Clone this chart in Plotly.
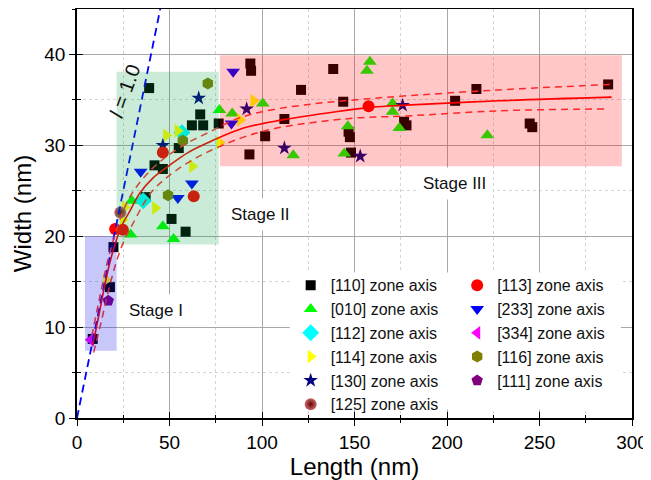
import plotly.graph_objects as go

# ---------------- data ----------------
x110 = [39.0, 66.6, 62.1, 68.2, 76.6, 55.0, 93.7, 94.1, 93.2, 41.9, 46.4, 37.1, 51.1, 58.7,
        19.7, 17.8, 8.5, 138.5, 121.1, 143.9, 112.1, 101.7, 146.8, 147.5, 148.1, 176.8,
        178.1, 215.9, 204.4, 244.7, 246.1, 287.1]
y110 = [36.3, 33.4, 32.2, 32.2, 32.4, 29.7, 39.0, 38.2, 29.0, 27.8, 27.4, 24.3, 21.9, 20.5,
        18.8, 14.4, 8.7, 38.4, 36.1, 34.8, 32.9, 31.0, 31.5, 30.9, 29.2, 32.6,
        32.2, 36.2, 34.9, 32.4, 32.0, 36.7]

x010 = [77.0, 83.9, 100.4, 158.3, 156.7, 116.9, 146.4, 144.5, 170.6, 170.6, 174.2, 221.8,
        29.6, 29.0, 46.4, 52.2]
y010 = [33.9, 33.5, 34.6, 39.2, 38.2, 28.9, 32.1, 29.1, 34.6, 33.7, 31.9, 31.1,
        23.9, 20.2, 21.1, 19.7]

x112 = [56.7, 35.8]
y112 = [31.4, 23.9]

x114 = [48.2, 54.4, 77.0, 95.4, 88.2, 62.3, 42.3, 25.8, 24.8, 15.7]
y114 = [31.1, 31.6, 30.3, 34.9, 32.8, 27.7, 23.1, 23.2, 21.8, 15.2]

x130 = [65.8, 46.4, 91.7, 112.1, 153.1, 176.0]
y130 = [35.2, 30.0, 34.0, 29.7, 28.8, 34.4]

x125 = [23.4]
y125 = [22.6]

x113 = [46.4, 63.1, 20.6, 24.8, 157.6]
y113 = [29.2, 24.4, 20.8, 20.7, 34.3]

x233 = [84.4, 83.5, 34.4, 62.1, 54.5]
y233 = [38.1, 32.4, 27.1, 25.8, 24.2]

x334 = [7.4]
y334 = [8.6]

x116 = [70.7, 57.2, 49.2]
y116 = [36.8, 30.5, 24.5]

x111 = [16.9]
y111 = [12.9]

# fitted curve and its confidence band
fit_x = [8.5, 12, 15, 18, 22, 25, 28.4, 33.8, 41, 50, 60, 72, 90, 111, 140, 160, 175, 228, 289]
fit_y = [8.0, 11.5, 14.6, 17.3, 20.0, 21.5, 22.7, 24.7, 26.4, 27.8, 29.2, 30.4, 31.9, 32.8,
         33.7, 34.2, 34.4, 34.9, 35.3]
up_x = [8, 12, 16, 20, 25, 30, 40, 50, 60, 72, 85, 100, 125, 150, 175, 228, 289]
up_y = [9.0, 13.0, 16.8, 19.8, 22.8, 24.8, 27.3, 29.0, 30.3, 31.5, 32.8, 33.7, 34.5, 35.0,
        35.4, 36.1, 36.7]
lo_x = [9, 13, 17, 21, 25, 30, 40, 50, 60, 72, 90, 108, 150, 175, 228, 286]
lo_y = [7.2, 10.5, 14.0, 17.0, 19.3, 21.3, 24.8, 26.7, 28.1, 29.4, 30.9, 31.9, 33.0, 33.2,
        33.8, 34.0]

# aspect-ratio guide l = 1.0
guide_x = [0, 45]
guide_y = [0, 45]

FONT = "Arial, Liberation Sans, sans-serif"

fig = go.Figure()

def add(name, xs, ys, symbol, color, size, legend, extra=None):
    marker = dict(symbol=symbol, color=color, size=size, line=dict(width=0))
    if extra:
        marker.update(extra)
    fig.add_trace(go.Scatter(x=xs, y=ys, mode="markers", name=name, marker=marker,
                             legend=legend))

add("[110] zone axis", x110, y110, "square", "#000000", 10, "legend")
add("[010] zone axis", x010, y010, "triangle-up", "#00ff00", 12, "legend")
add("[112] zone axis", x112, y112, "diamond", "#00ffff", 13, "legend")
add("[114] zone axis", x114, y114, "triangle-right", "#ffff00", 12, "legend")
add("[130] zone axis", x130, y130, "star", "#000080", 11, "legend")
add("[125] zone axis", x125, y125, "circle", "#c86a6a", 12, "legend",
    dict(gradient=dict(type="radial", color="#6a0000")))
add("[113] zone axis", x113, y113, "circle", "#ff0000", 12, "legend2")
add("[233] zone axis", x233, y233, "triangle-down", "#0000ff", 12, "legend2")
add("[334] zone axis", x334, y334, "triangle-left", "#ff00ff", 12, "legend2")
add("[116] zone axis", x116, y116, "hexagon", "#808000", 12, "legend2")
add("[111] zone axis", x111, y111, "pentagon", "#800080", 12, "legend2")

fig.add_trace(go.Scatter(x=guide_x, y=guide_y, mode="lines", showlegend=False,
                         line=dict(color="#0000ff", width=1.8, dash="8px,5px")))
fig.add_trace(go.Scatter(x=up_x, y=up_y, mode="lines", showlegend=False,
                         line=dict(color="#ff3333", width=1.5, dash="7px,5px", shape="spline")))
fig.add_trace(go.Scatter(x=lo_x, y=lo_y, mode="lines", showlegend=False,
                         line=dict(color="#ff3333", width=1.5, dash="7px,5px", shape="spline")))
fig.add_trace(go.Scatter(x=fit_x, y=fit_y, mode="lines", showlegend=False,
                         line=dict(color="#ff0000", width=1.6, shape="spline")))
# empty trace so the overlay axes (inside ticks) exist
fig.add_trace(go.Scatter(x=[], y=[], xaxis="x2", yaxis="y2", showlegend=False))

# stage rectangles (translucent, over the markers)
fig.add_shape(type="rect", x0=4.3, x1=21.4, y0=7.4, y1=20.0, layer="above",
              line=dict(width=0), fillcolor="rgba(20,20,230,0.24)")
fig.add_shape(type="rect", x0=21.4, x1=76.6, y0=19.1, y1=38.1, layer="above",
              line=dict(width=0), fillcolor="rgba(0,160,70,0.21)")
fig.add_shape(type="rect", x0=77.2, x1=294.5, y0=27.7, y1=39.9, layer="above",
              line=dict(width=0), fillcolor="rgba(255,0,0,0.22)")
# white panel behind the legend
fig.add_shape(type="rect", x0=115.0, x1=294.0, y0=0.94, y1=16.0, layer="between",
              line=dict(width=0), fillcolor="white")

ann_font = dict(family=FONT, size=17, color="#111111")
fig.add_annotation(x=42.5, y=11.85, text="Stage I", showarrow=False, font=ann_font,
                   bgcolor="white", borderpad=6)
fig.add_annotation(x=99.0, y=22.4, text="Stage II", showarrow=False, font=ann_font,
                   bgcolor="white", borderpad=6)
fig.add_annotation(x=204.2, y=25.8, text="Stage III", showarrow=False, font=ann_font,
                   bgcolor="white", borderpad=6)
fig.add_annotation(x=25.8, y=36.0, text="<i>l</i> = 1.0", showarrow=False, textangle=-70,
                   font=dict(family=FONT, size=20, color="#111111"))

axis_common = dict(showline=True, linecolor="black", linewidth=1.5, mirror=True,
                   ticks="outside", ticklen=6, tickwidth=1.3, tickcolor="black",
                   showgrid=True, gridcolor="#a8a8a8", gridwidth=1, zeroline=False,
                   automargin=False,
                   tickfont=dict(family=FONT, size=19, color="black"))

# the page body adds an 8 px offset, so the figure is sized to end at the window edge
fig.update_layout(
    width=643, height=472,
    margin=dict(l=69, r=19, t=1, b=62, autoexpand=False),
    plot_bgcolor="white", paper_bgcolor="white",
    font=dict(family=FONT, color="black"),
    xaxis=dict(range=[0, 300], dtick=50, tick0=0,
               minor=dict(dtick=25, ticks="outside", ticklen=3.5, tickcolor="black",
                          showgrid=True, gridcolor="#d4d4d4", griddash="3px,3px"),
               title=dict(text="Length (nm)", font=dict(family=FONT, size=24), standoff=4),
               **axis_common),
    yaxis=dict(range=[0, 45], dtick=10, tick0=0,
               minor=dict(dtick=5, ticks="outside", ticklen=3.5, tickcolor="black",
                          showgrid=True, gridcolor="#d4d4d4", griddash="3px,3px"),
               title=dict(text="Width (nm)", font=dict(family=FONT, size=24), standoff=6),
               **axis_common),
    xaxis2=dict(overlaying="x", anchor="y2", range=[0, 300], dtick=50, tick0=0,
                ticks="inside", ticklen=6, tickwidth=1.3, tickcolor="black",
                showticklabels=False, showgrid=False, zeroline=False, showline=False,
                automargin=False,
                minor=dict(dtick=25, ticks="inside", ticklen=3.5, tickcolor="black")),
    yaxis2=dict(overlaying="y", anchor="x2", range=[0, 45], dtick=10, tick0=0,
                ticks="inside", ticklen=6, tickwidth=1.3, tickcolor="black",
                showticklabels=False, showgrid=False, zeroline=False, showline=False,
                automargin=False,
                minor=dict(dtick=5, ticks="inside", ticklen=3.5, tickcolor="black")),
    legend=dict(x=0.385, y=0.366, xanchor="left", yanchor="top",
                bgcolor="rgba(0,0,0,0)", font=dict(family=FONT, size=16, color="#111111"),
                itemwidth=30, tracegroupgap=0),
    legend2=dict(x=0.685, y=0.366, xanchor="left", yanchor="top",
                 bgcolor="rgba(0,0,0,0)", font=dict(family=FONT, size=16, color="#111111"),
                 itemwidth=30, tracegroupgap=0),
    showlegend=True,
)

fig.write_html("out.html")
